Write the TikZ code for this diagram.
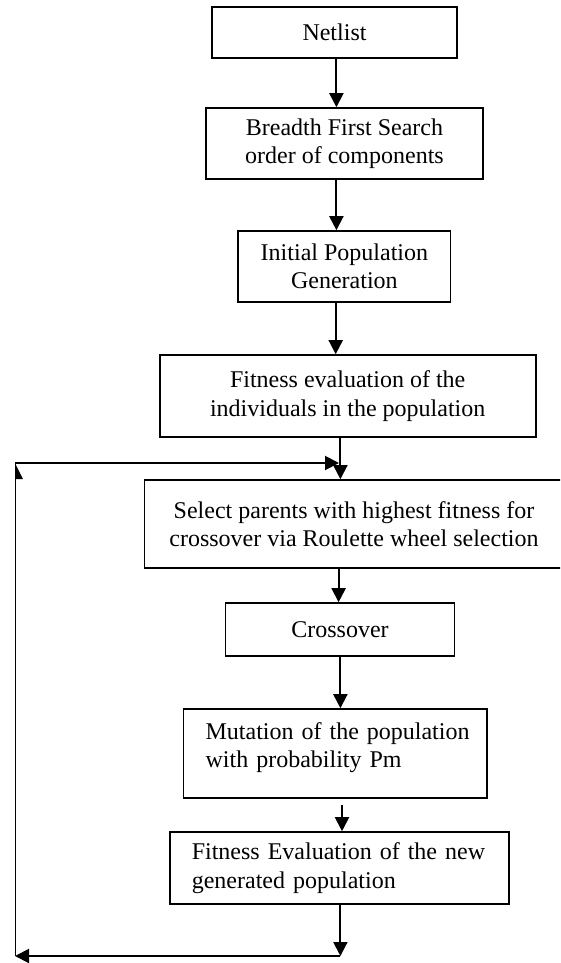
\documentclass[tikz,border=0pt]{standalone}
\usepackage{fontspec}
\setmainfont{Liberation Serif}
\usetikzlibrary{arrows.meta}
\begin{document}
\begin{tikzpicture}[x=1pt,y=-1pt,
  box/.style={draw,line width=1.6pt,rectangle,inner sep=0pt,align=center,
    font=\fontsize{24}{28.5}\selectfont},
  lbox/.style={box,align=left,inner xsep=22pt},
  arr/.style={line width=2pt,-{Triangle[length=14pt,width=14pt]}},
  thinline/.style={line width=1pt}]
\useasboundingbox (0,0) rectangle (560,963);
\clip (0,0) rectangle (560,963);
% boxes
\node[box,minimum width=245pt,minimum height=51pt] (net) at (334.5,32.5) {Netlist};
\node[box,minimum width=277.5pt,minimum height=71pt] (bfs) at (344.5,143.5) {Breadth First Search\\order of components};
\node[box,minimum width=212.5pt,minimum height=71pt] (init) at (344.4,266.5) {Initial Population\\Generation};
\node[box,minimum width=376pt,minimum height=82pt] (fit) at (347.7,396) {Fitness evaluation of the\\individuals in the population};
\node[box,minimum width=419.4pt,minimum height=88pt] (sel) at (354,524) {Select parents with highest fitness for\\crossover via Roulette wheel selection};
\node[box,minimum width=229pt,minimum height=53pt] (cross) at (340,629.5) {Crossover};
\node[lbox,text width=259.6pt,minimum height=89pt] (mut) at (335.4,753.5) {\mbox{Mutation of the population}\\\mbox{with probability Pm}\\[-12pt]\mbox{}};
\node[lbox,text width=295pt,minimum height=72pt] (fnew) at (339.3,868) {\mbox{Fitness Evaluation of the new}\\\mbox{generated population}};
% column coordinates
\coordinate (xa) at (336.4,0);
\coordinate (xb) at (335.7,0);
\coordinate (xc) at (340.4,0);
\coordinate (xd) at (338.6,0);
\coordinate (xe) at (342,0);
\coordinate (br) at (340.4,956);
\coordinate (bl) at (15,956);
\coordinate (tl) at (15,463);
\coordinate (tr) at (339,463);
% connectors
\draw[arr] (net.south -| xa) -- (bfs.north -| xa);
\draw[arr] (bfs.south -| xa) -- (init.north -| xa);
\draw[arr] (init.south -| xb) -- (fit.north -| xb);
\draw[arr] (fit.south -| xc) -- (sel.north -| xc);
\draw[arr] (sel.south -| xd) -- (cross.north -| xd);
\draw[arr] (cross.south -| xc) -- (mut.north -| xc);
\draw[arr] ([yshift=-6pt]mut.south -| xe) -- (fnew.north -| xe);
\draw[arr] (fnew.south -| br) -- (br);
\draw[arr] (br) -- (bl);
\draw[thinline] (bl) -- (tl);
\draw[arr] (tl) -- (tr);
\fill (tl) -- ++(8,16) -- ++(-8,0) -- cycle;
\end{tikzpicture}
\end{document}
